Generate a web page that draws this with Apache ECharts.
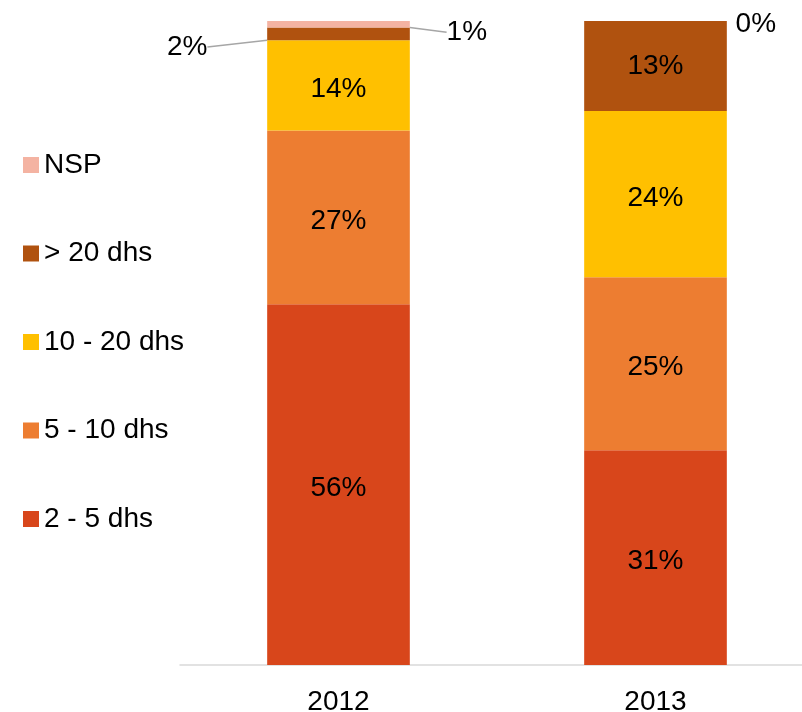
<!DOCTYPE html>
<html><head><meta charset="utf-8">
<script src="https://cdn.jsdelivr.net/npm/echarts@6/dist/echarts.min.js"></script>
<style>html,body{margin:0;padding:0;background:#fff}#c{width:802px;height:712px}</style>
</head><body><div id="c"></div>
<script>
const categories = ['2012', '2013'];
const seriesNames = ['2 - 5 dhs', '5 - 10 dhs', '10 - 20 dhs', '> 20 dhs', 'NSP'];
const v2to5 = [56, 31];
const v5to10 = [27, 25];
const v10to20 = [14, 24];
const vOver20 = [2, 13];
const vNSP = [1, 0];
const colors = ['#D8461B', '#ED7D31', '#FFC000', '#B0520F', '#F4B3A2'];

const raw = [v2to5, v5to10, v10to20, vOver20, vNSP];
const totals = categories.map((_, i) => raw.reduce((s, arr) => s + arr[i], 0));
const FONT = 'Liberation Sans, Arial, sans-serif';
const FS = 28;

const layouts = {
  3: function (p) {
    if (p.dataIndex === 0) {
      return { x: p.rect.x - 80, y: p.rect.y + p.rect.height / 2 + 13, align: 'center', verticalAlign: 'middle' };
    }
    return {};
  },
  4: function (p) {
    if (p.dataIndex === 0) {
      return { x: p.rect.x + p.rect.width + 57, y: p.rect.y + p.rect.height / 2 + 8, align: 'center', verticalAlign: 'middle' };
    }
    return { x: p.rect.x + p.rect.width + 29, y: p.rect.y + 3, align: 'center', verticalAlign: 'middle' };
  }
};

const series = raw.map((arr, si) => ({
  name: seriesNames[si],
  type: 'bar',
  stack: 'total',
  barWidth: '45%',
  itemStyle: { color: colors[si] },
  label: {
    show: true,
    position: 'inside',
    offset: [0, 4],
    color: '#000',
    fontFamily: FONT,
    fontSize: FS,
    formatter: p => raw[p.seriesIndex][p.dataIndex] + '%'
  },
  labelLayout: layouts[si],
  labelLine: { show: false, lineStyle: { color: '#A6A6A6', width: 1.5 } },
  data: arr.map((v, i) => {
    const d = { value: v / totals[i] * 100 };
    if ((si === 3 || si === 4) && i === 0) d.labelLine = { show: true, lineStyle: { color: '#A6A6A6', width: 1.5 } };
    return d;
  })
}));

const chart = echarts.init(document.getElementById('c'), null, { renderer: 'canvas' });
chart.setOption({
  animation: false,
  color: colors,
  legend: {
    orient: 'vertical',
    left: 18,
    top: 144,
    itemWidth: 16,
    itemHeight: 16,
    itemGap: 56.5,
    icon: 'rect',
    data: seriesNames.slice().reverse(),
    textStyle: { fontFamily: FONT, fontSize: FS, color: '#000', lineHeight: 32 }
  },
  grid: { left: 180, width: 634, top: 21, bottom: 47, outerBoundsMode: 'none', containLabel: false },
  xAxis: {
    type: 'category',
    data: categories,
    axisLine: { lineStyle: { color: '#D9D9D9', width: 1.5 } },
    axisTick: { show: false },
    axisLabel: { color: '#000', fontFamily: FONT, fontSize: FS, margin: 23 }
  },
  yAxis: { type: 'value', min: 0, max: 100, show: false, splitLine: { show: false } },
  series: series
});
</script></body></html>
